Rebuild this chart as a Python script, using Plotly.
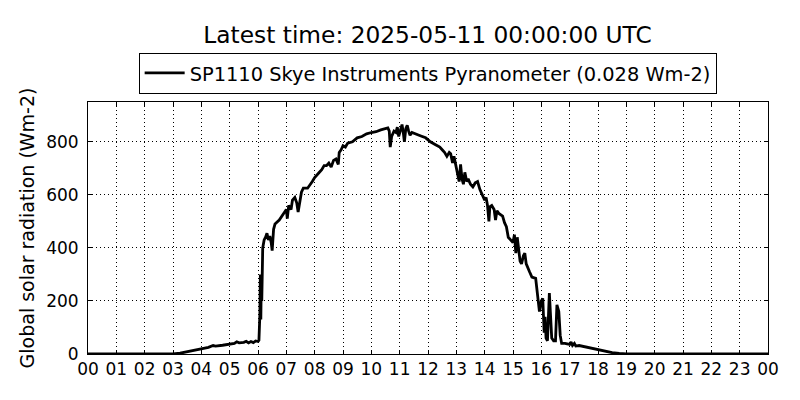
import pandas as pd
import plotly.graph_objects as go

# Data (time of day, Wm-2)
times = ["00:00", "03:00", "03:15", "03:30", "03:45", "04:00", "04:15", "04:25", "04:30", "04:45",
         "05:00", "05:10", "05:15", "05:20", "05:30", "05:35", "05:40", "05:45", "05:50", "05:55",
         "06:00", "06:02", "06:04", "06:05", "06:06", "06:07", "06:08", "06:10", "06:13", "06:16",
         "06:19", "06:22", "06:25", "06:28", "06:30", "06:33", "06:36", "06:45", "06:55", "07:00",
         "07:02", "07:05", "07:10", "07:13", "07:18", "07:22", "07:25", "07:28", "07:32", "07:36",
         "07:45", "07:55", "08:00", "08:10", "08:15", "08:20", "08:25", "08:30", "08:35", "08:40",
         "08:45", "08:50", "08:52", "08:56", "09:00", "09:05", "09:10", "09:20", "09:30", "09:40",
         "09:50", "10:00", "10:10", "10:20", "10:30", "10:35", "10:38", "10:40", "10:43", "10:48",
         "10:52", "10:55", "10:58", "11:02", "11:05", "11:08", "11:10", "11:13", "11:16", "11:19",
         "11:22", "11:26", "11:35", "11:45", "11:55", "12:05", "12:15", "12:25", "12:30", "12:35",
         "12:40", "12:45", "12:48", "12:52", "12:55", "13:00", "13:03", "13:06", "13:09", "13:12",
         "13:15", "13:18", "13:22", "13:25", "13:30", "13:35", "13:40", "13:45", "13:50", "13:55",
         "14:00", "14:03", "14:06", "14:09", "14:11", "14:15", "14:20", "14:23", "14:26", "14:30",
         "14:38", "14:42", "14:46", "14:50", "14:55", "15:00", "15:03", "15:06", "15:09", "15:12",
         "15:15", "15:18", "15:22", "15:25", "15:28", "15:35", "15:40", "15:48", "15:52", "15:56",
         "16:00", "16:03", "16:06", "16:08", "16:10", "16:13", "16:17", "16:20", "16:22", "16:26",
         "16:30", "16:33", "16:37", "16:40", "16:43", "16:50", "16:55", "17:00", "17:03", "17:06",
         "17:10", "17:13", "17:20", "17:30", "17:45", "18:00", "18:15", "18:30", "18:45", "19:00",
         "24:00"]
values = [0, 0, 3, 8, 14, 20, 25, 32, 30, 33,
          37, 40, 46, 42, 44, 48, 42, 47, 43, 49,
          47, 52, 150, 300, 130, 290, 200, 400, 430, 440,
          455, 430, 445, 420, 390, 470, 490, 505, 530, 545,
          510, 560, 545, 580, 590, 570, 535, 565, 610, 625,
          625, 650, 665, 685, 695, 710, 710, 720, 705, 730,
          735, 715, 760, 770, 785, 780, 795, 800, 815, 820,
          830, 835, 838, 845, 848, 852, 840, 780, 820, 840,
          835, 855, 820, 850, 865, 830, 800, 850, 862, 840,
          825, 835, 830, 822, 815, 800, 790, 780, 770, 760,
          745, 760, 755, 720, 745, 700, 680, 650, 715, 660,
          640, 685, 650, 660, 640, 630, 645, 650, 620, 600,
          580, 590, 560, 500, 555, 560, 545, 505, 540, 530,
          520, 495, 480, 440, 430, 420, 450, 380, 440, 390,
          350, 340, 370, 380, 340, 310, 290, 285, 220, 160,
          200, 210, 80, 140, 60, 50, 230, 100, 60, 50,
          50, 185, 160, 70, 40, 40, 38, 36, 45, 32,
          40, 30, 32, 28, 22, 16, 10, 5, 2, 0,
          0]

series_name = "SP1110 Skye Instruments Pyranometer (0.028 Wm-2)"
title_text = "Latest time: 2025-05-11 00:00:00 UTC"
y_label = "Global solar radiation (Wm-2)"
y_ticks = [0, 200, 400, 600, 800]

base = pd.Timestamp("2025-05-10 00:00:00")
def to_ts(t):
    h, m = t.split(":")
    return base + pd.Timedelta(hours=int(h), minutes=int(m))

x = [to_ts(t) for t in times]

fig = go.Figure()
fig.add_trace(go.Scatter(x=x, y=values, mode="lines", name=series_name,
                         line=dict(color="black", width=2.8)))

font_family = "DejaVu Sans"
# page body has an 8px margin, so the figure is offset by 8px; margins compensate
fig.update_layout(
    width=800, height=400,
    margin=dict(l=80, r=40, t=94, b=54, autoexpand=False),
    paper_bgcolor="white", plot_bgcolor="white",
    font=dict(family=font_family, color="black", size=17),
    title=dict(text=title_text, x=419.5 / 800, xanchor="center", y=1 - 27 / 400, yanchor="middle",
               yref="container", font=dict(size=23.3, family=font_family, color="black")),
    showlegend=True,
    legend=dict(orientation="h", x=0.4995, xanchor="center", y=1.195, yanchor="top",
                bordercolor="black", borderwidth=1, bgcolor="white",
                font=dict(size=19.4, family=font_family, color="black"),
                itemwidth=40),
)
fig.update_xaxes(
    range=[base, base + pd.Timedelta(hours=24)],
    tickformat="%H", dtick=3600000, tick0=base,
    ticks="inside", ticklen=4, tickcolor="black",
    showline=True, linecolor="black", linewidth=1, mirror="ticks",
    showgrid=True, gridcolor="black", griddash="1px,3px", gridwidth=1,
    zeroline=False, tickfont=dict(size=17), automargin=False,
)
fig.update_yaxes(
    range=[0, 950], tickvals=y_ticks,
    ticks="inside", ticklen=4, tickcolor="black",
    showline=True, linecolor="black", linewidth=1, mirror="ticks",
    showgrid=True, gridcolor="black", griddash="1px,3px", gridwidth=1,
    zeroline=False, tickfont=dict(size=17), ticklabelstandoff=5, automargin=True,
    title=dict(text=y_label, font=dict(size=19), standoff=6),
)

fig.write_html("out.html")
